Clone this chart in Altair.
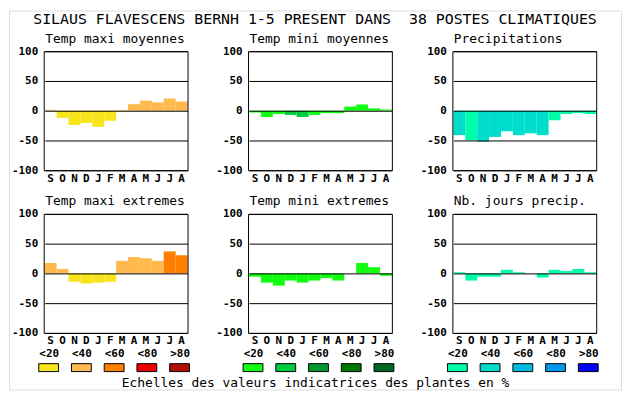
import altair as alt
import pandas as pd

FONT = "DejaVu Sans Mono"

# ---------------- data ----------------
MONTHS = ["S", "O", "N", "D", "J", "F", "M", "A", "M", "J", "J", "A"]
TITLE = "SILAUS FLAVESCENS BERNH 1-5 PRESENT DANS\u00a0 38 POSTES CLIMATIQUES"
CAPTION = "Echelles des valeurs indicatrices des plantes en %"
PANEL_TITLES = ["Temp maxi moyennes", "Temp mini moyennes", "Precipitations",
                "Temp maxi extremes", "Temp mini extremes", "Nb. jours precip."]
PANEL_FAMILY = ["r", "g", "b", "r", "g", "b"]

tmax_moy = [1.5, -12, -24, -20.5, -27, -17, 1, 11, 17, 14, 20.5, 15.5]
tmax_moy_cls = [1, 0, 0, 0, 0, 0, 1, 1, 1, 1, 1, 1]
tmin_moy = [-3, -10.5, -5.5, -7, -10.5, -7, -4, -4, 7, 10.5, 4, 2]
tmin_moy_cls = [0, 0, 0, 1, 1, 0, 0, 0, 0, 0, 0, 0]
precip = [-41, -49.5, -52, -44, -34.5, -41, -38, -41, -16, -5.5, -4, -5.5]
precip_cls = [1, 0, 1, 1, 1, 1, 1, 1, 0, 0, 0, 0]
tmax_ext = [17.5, 7.5, -14, -17, -15.5, -14, 21, 27.5, 25.5, 21, 37, 30.5]
tmax_ext_cls = [1, 1, 0, 0, 0, 0, 1, 1, 1, 1, 2, 2]
tmin_ext = [-5.5, -15.5, -20.5, -12, -15.5, -12, -8, -12, 0, 17.5, 10.5, -4]
tmin_ext_cls = [0, 0, 0, 0, 0, 0, 0, 0, 0, 0, 0, 0]
jours_precip = [2, -12, -5.5, -5.5, 6, 2, 0, -7, 6, 4, 7.5, 2]
jours_precip_cls = [0, 0, 0, 0, 0, 0, 0, 0, 0, 0, 0, 0]

VALUES = [tmax_moy, tmin_moy, precip, tmax_ext, tmin_ext, jours_precip]
CLASSES = [tmax_moy_cls, tmin_moy_cls, precip_cls, tmax_ext_cls, tmin_ext_cls, jours_precip_cls]

SCALE_LABELS = ["<20", "<40", "<60", "<80", ">80"]
RED = ["#F8E41C", "#FFB94F", "#FF8000", "#EE0000", "#B01000"]
GREEN = ["#10FF10", "#00CC40", "#009933", "#007700", "#006622"]
BLUE = ["#00FFAA", "#00DDCC", "#00BBDD", "#0099EE", "#0000FF"]
Y_TICKS = [-100, -50, 0, 50, 100]

KEYS = [f + str(k) for f in "rgb" for k in range(5)]
COLORS = RED + GREEN + BLUE
color_scale = alt.Scale(domain=KEYS, range=COLORS)

# ---------------- layout ----------------
W, H = 617, 382
COL_X = [36, 242, 448]
ROW_Y = [41, 205]
TITLE_Y = [32, 196]
PW, PH = 144, 120

month_expr = "[" + ",".join("'%s'" % m for m in MONTHS) + "][datum.value]"
scale_expr = "[" + ",".join("'%s'" % s for s in SCALE_LABELS) + "][datum.value]"
SWATCH = "M-1,-0.4L1,-0.4L1,0.4L-1,0.4Z"


def panel(i):
    r, c = divmod(i, 3)
    x0, y0 = COL_X[c], ROW_Y[r]
    df = pd.DataFrame({
        "i": list(range(12)),
        "v": VALUES[i],
        "key": [PANEL_FAMILY[i] + str(k) for k in CLASSES[i]],
    })
    xs = alt.Scale(range=[x0, x0 + PW], paddingInner=0, paddingOuter=0)
    ys = alt.Scale(domain=[-100, 100], range=[y0 + PH, y0], nice=False, zero=False)
    bars = alt.Chart(df).mark_bar(strokeWidth=0).encode(
        x=alt.X("i:O", scale=xs, axis=alt.Axis(
            orient="bottom", offset=y0 + PH - H, labelExpr=month_expr, labelAngle=0,
            ticks=False, tickSize=0, domain=False, grid=False, labelPadding=2,
            title=None, labelFont=FONT, labelFontSize=11, labelFontWeight="bold",
            labelColor="black", labelOverlap=False)),
        y=alt.Y("v:Q", scale=ys, axis=alt.Axis(
            orient="left", offset=-x0, values=Y_TICKS, labelExpr="'' + datum.value",
            grid=True, gridColor="black", gridOpacity=1, gridWidth=1,
            ticks=False, tickSize=0, domain=False, labelPadding=7,
            labelFlush=False, labelOverlap=False, labelFont=FONT, labelFontSize=11,
            labelFontWeight="bold", labelColor="black",
            title=PANEL_TITLES[i], titleAngle=0, titleAlign="left",
            titleBaseline="alphabetic", titleX=0, titleY=TITLE_Y[r],
            titleFont=FONT, titleFontSize=13, titleFontWeight="normal",
            titleColor="black", zindex=1)),
        color=alt.Color("key:N", scale=color_scale, legend=None),
    )
    one = pd.DataFrame({"p": [PANEL_TITLES[i]]})
    frame = alt.Chart(one).mark_rect(fillOpacity=0, stroke="black", strokeWidth=1).encode(
        x=alt.XDatum(0, type="quantitative",
                     scale=alt.Scale(domain=[0, 1], range=[x0 - 0.5, x0 + PW + 0.5]), axis=None),
        x2=alt.X2Datum(1),
        y=alt.YDatum(0, type="quantitative",
                     scale=alt.Scale(domain=[0, 1], range=[y0 + PH + 0.5, y0 + 0.5]), axis=None),
        y2=alt.Y2Datum(1),
    )
    return [bars, frame]


def legend(g):
    fam = "rgb"[g]
    df = pd.DataFrame({"k": list(range(5)), "key": [fam + str(k) for k in range(5)],
                       "fam": [fam] * 5})
    c0 = 40 + 206 * g
    axis_kw = dict(orient="top", offset=-351, labelExpr=scale_expr, labelAngle=0,
                   ticks=False, tickSize=0, domain=False, grid=False, labelPadding=2,
                   labelBaseline="alphabetic", labelFont=FONT, labelFontSize=11,
                   labelFontWeight="bold", labelColor="black", labelOverlap=False)
    if g == 1:
        axis_kw.update(title=CAPTION, titleX=308.5, titleY=28, titleAlign="center",
                       titleBaseline="alphabetic", titleAngle=0, titleFont=FONT,
                       titleFontSize=13, titleFontWeight="normal", titleColor="black")
    else:
        axis_kw.update(title=None)
    return alt.Chart(df).mark_point(shape=SWATCH, size=400, filled=True, stroke="black",
                                    strokeWidth=1, opacity=1).encode(
        x=alt.X("k:O", scale=alt.Scale(type="point", range=[c0, c0 + 132], padding=0),
                axis=alt.Axis(**axis_kw)),
        y=alt.Y("fam:N", scale=alt.Scale(type="point", range=[356, 364]), axis=None),
        color=alt.Color("key:N", scale=color_scale, legend=None),
    )


layers = []
for i in range(6):
    layers += panel(i)
for g in range(3):
    layers.append(legend(g))

chart = alt.layer(*layers).resolve_scale(
    x="independent", y="independent"
).properties(
    width=W, height=H, padding=1,
    autosize=alt.AutoSizeParams(type="none"),
    background="white",
    title=alt.TitleParams(TITLE, font=FONT, fontSize=15, fontWeight="normal",
                          anchor="middle", offset=-29, baseline="alphabetic",
                          color="black", frame="group"),
).configure_view(stroke="black", strokeWidth=1).configure(font=FONT)

chart.save("out.html", embed_options={"renderer": "svg", "actions": False})
